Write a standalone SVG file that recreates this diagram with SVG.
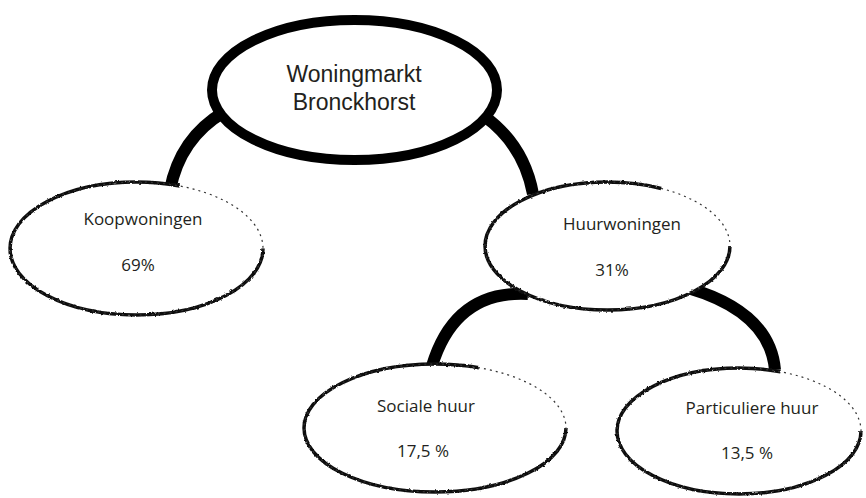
<svg xmlns="http://www.w3.org/2000/svg" width="866" height="498" viewBox="0 0 866 498">
  <defs>
    <filter id="rough" x="-5%" y="-5%" width="110%" height="110%">
      <feTurbulence type="fractalNoise" baseFrequency="0.35" numOctaves="2" seed="3" result="n"/>
      <feDisplacementMap in="SourceGraphic" in2="n" scale="2.5" xChannelSelector="R" yChannelSelector="G"/>
    </filter>
  </defs>
  <style>
    .bg { fill: #ffffff; }
    .conn { fill: none; stroke: #000000; stroke-width: 12; stroke-linecap: butt; }
    .main { fill: #ffffff; stroke: #000000; stroke-width: 10; }
    .node { fill: none; stroke: #111111; stroke-width: 3.5; }
    .fill { fill: #ffffff; }
    .faint { fill: none; stroke: #333333; stroke-width: 1.2; stroke-dasharray: 2 4; }
    .t { font-family: "Open Sans", "Noto Sans", "Liberation Sans", sans-serif; fill: #231f20; text-anchor: middle; }
    .title { font-family: "Liberation Sans", Arial, sans-serif; font-size: 23px; }
    .lbl { font-size: 17px; }
  </style>
  <rect class="bg" x="0" y="0" width="866" height="498"/>

  <g id="connectors">
    <path class="conn" d="M 224 112 Q 180 138 170 190"/>
    <path class="conn" d="M 484 116 Q 524 145 533 194"/>
    <path class="conn" d="M 528 294 Q 455 290 432 366"/>
    <path class="conn" d="M 688 288 Q 770 312 775 370"/>
  </g>

  <g id="woningmarkt">
    <ellipse class="main" cx="354.5" cy="90" rx="142.5" ry="70"/>
    <text class="t title" x="354" y="82">Woningmarkt</text>
    <text class="t title" x="354" y="110">Bronckhorst</text>
  </g>

  <g id="koopwoningen">
    <ellipse class="fill" cx="136.5" cy="248.5" rx="126.5" ry="66.5"/>
    <ellipse class="node" cx="136.5" cy="248.5" rx="126.5" ry="66.5" pathLength="100" stroke-dasharray="82 18" filter="url(#rough)"/>
    <ellipse class="faint" cx="136.5" cy="248.5" rx="126.5" ry="66.5"/>
    <text class="t lbl" x="143" y="225">Koopwoningen</text>
    <text class="t lbl" x="138" y="271">69%</text>
  </g>

  <g id="huurwoningen">
    <ellipse class="fill" cx="607.5" cy="246" rx="122.5" ry="64"/>
    <ellipse class="node" cx="607.5" cy="246" rx="122.5" ry="64" pathLength="100" stroke-dasharray="84 16" filter="url(#rough)"/>
    <ellipse class="faint" cx="607.5" cy="246" rx="122.5" ry="64"/>
    <text class="t lbl" x="622" y="230">Huurwoningen</text>
    <text class="t lbl" x="612" y="276">31%</text>
  </g>

  <g id="sociale-huur">
    <ellipse class="fill" cx="435" cy="428" rx="131" ry="64"/>
    <ellipse class="node" cx="435" cy="428" rx="131" ry="64" pathLength="100" stroke-dasharray="82 18" filter="url(#rough)"/>
    <ellipse class="faint" cx="435" cy="428" rx="131" ry="64"/>
    <text class="t lbl" x="426" y="412">Sociale huur</text>
    <text class="t lbl" x="423" y="457">17,5 %</text>
  </g>

  <g id="particuliere-huur">
    <ellipse class="fill" cx="739" cy="431" rx="122" ry="63"/>
    <ellipse class="node" cx="739" cy="431" rx="122" ry="63" pathLength="100" stroke-dasharray="82 18" filter="url(#rough)"/>
    <ellipse class="faint" cx="739" cy="431" rx="122" ry="63"/>
    <text class="t lbl" x="752" y="414">Particuliere huur</text>
    <text class="t lbl" x="747" y="459">13,5 %</text>
  </g>
</svg>
